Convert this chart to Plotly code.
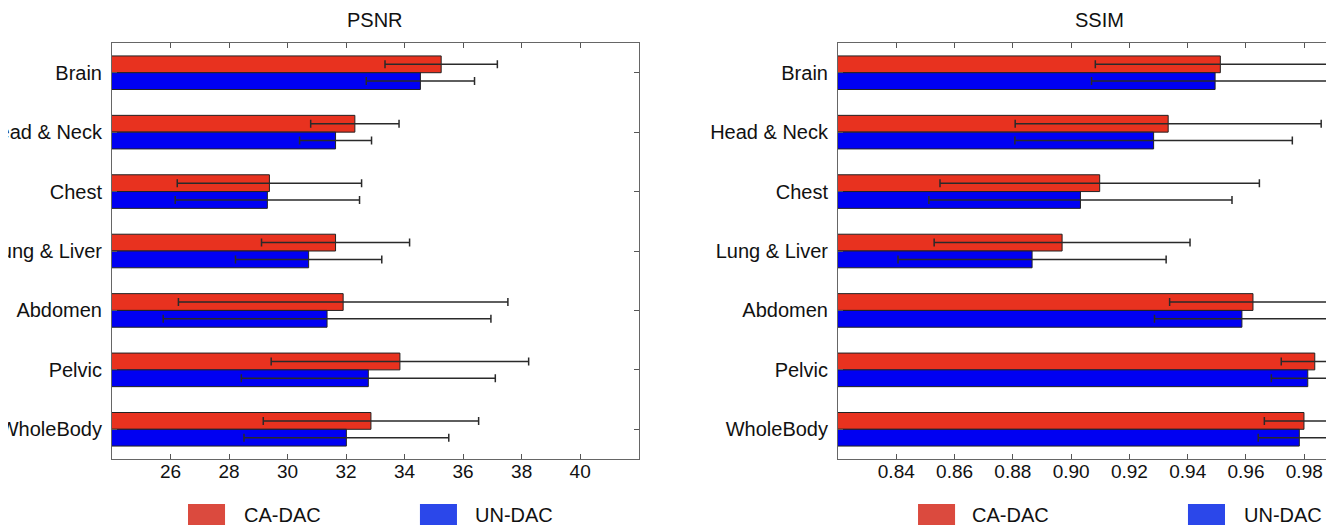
import plotly.graph_objects as go

categories = ["Brain", "Head & Neck", "Chest", "Lung & Liver", "Abdomen", "Pelvic", "WholeBody"]
series_names = ["CA-DAC", "UN-DAC"]

psnr_ca = [35.25, 32.30, 29.38, 31.64, 31.90, 33.84, 32.85]
psnr_ca_err = [1.92, 1.51, 3.15, 2.53, 5.63, 4.40, 3.68]
psnr_un = [34.54, 31.64, 29.31, 30.72, 31.35, 32.76, 32.01]
psnr_un_err = [1.85, 1.23, 3.15, 2.50, 5.60, 4.34, 3.50]

ssim_ca = [0.9512, 0.9333, 0.9098, 0.8969, 0.9624, 0.9836, 0.9799]
ssim_ca_err = [0.0429, 0.0525, 0.0548, 0.0439, 0.0286, 0.0115, 0.0136]
ssim_un = [0.9494, 0.9283, 0.9032, 0.8866, 0.9586, 0.9812, 0.9783]
ssim_un_err = [0.0424, 0.0476, 0.0520, 0.0460, 0.0300, 0.0125, 0.0141]

psnr_ticks = [26, 28, 30, 32, 34, 36, 38, 40]
ssim_ticks = [0.84, 0.86, 0.88, 0.90, 0.92, 0.94, 0.96, 0.98]

bar_colors = ["#e8321f", "#0000f2"]
legend_colors = ["#db4a3e", "#2b47ea"]
FONT = "Liberation Sans, Arial, sans-serif"

fig = go.Figure()

panels = [
    ("x", "y", [psnr_ca, psnr_un], [psnr_ca_err, psnr_un_err]),
    ("x2", "y2", [ssim_ca, ssim_un], [ssim_ca_err, ssim_un_err]),
]
for xa, ya, vals, errs in panels:
    for i in range(2):
        fig.add_trace(go.Bar(
            y=categories, x=vals[i], orientation="h", name=series_names[i],
            marker=dict(color=bar_colors[i], line=dict(color="#222222", width=1)),
            error_x=dict(type="data", array=errs[i], visible=True,
                         color="#2a2a2a", thickness=1.5, width=4),
            xaxis=xa, yaxis=ya, showlegend=False,
        ))

axis_common = dict(showline=True, linecolor="#666666", linewidth=1,
                   ticks="inside", ticklen=5, tickcolor="#555555",
                   showgrid=False, zeroline=False, automargin=False,
                   tickfont=dict(family=FONT, size=19, color="#111111"))
ylab_font = dict(family=FONT, size=20, color="#111111")

fig.update_layout(
    width=1326, height=517,
    margin=dict(l=104, r=0, t=35, b=66, autoexpand=False),
    paper_bgcolor="white", plot_bgcolor="white",
    barmode="group", bargap=0.435, bargroupgap=0,
    font=dict(family=FONT, color="#111111"),
    xaxis=dict(domain=[0, 0.4310], range=[24, 42], tickvals=psnr_ticks,
               mirror="ticks", anchor="y", ticklabelstandoff=-5, **axis_common),
    yaxis=dict(range=[6.5, -0.5], mirror="ticks", anchor="x",
               ticklabelstandoff=5, **{**axis_common, "tickfont": ylab_font}),
    xaxis2=dict(domain=[0.5941, 1], range=[0.82, 0.9902], tickvals=ssim_ticks,
                tickformat=".2f", mirror="ticks", anchor="y2", ticklabelstandoff=-5,
                **axis_common),
    yaxis2=dict(range=[6.5, -0.5], mirror=False, anchor="x2",
                ticklabelstandoff=5, **{**axis_common, "tickfont": ylab_font}),
)

# Panel titles
for txt, xc in [("PSNR", 0.2152), ("SSIM", 0.8085)]:
    fig.add_annotation(text=txt, x=xc, y=1.0553, xref="paper", yref="paper",
                       xanchor="center", yanchor="middle", showarrow=False,
                       font=dict(family=FONT, size=20, color="#111111"))

# Legends (one under each panel)
legend_layout = [
    [(0.0622, 0.0925, 0.1064), (0.2520, 0.2823, 0.2954)],
    [(0.6596, 0.6899, 0.7021), (0.8805, 0.9108, 0.9247)],
]
for entries in legend_layout:
    for i, (x0, x1, xt) in enumerate(entries):
        fig.add_shape(type="rect", xref="paper", yref="paper",
                      x0=x0, x1=x1, y0=-0.16, y1=-0.1082,
                      fillcolor=legend_colors[i], line=dict(width=0))
        fig.add_annotation(text=series_names[i], x=xt, y=-0.135, xref="paper", yref="paper",
                           xanchor="left", yanchor="middle", showarrow=False,
                           font=dict(family=FONT, size=20, color="#111111"))

fig.write_html("out.html")
